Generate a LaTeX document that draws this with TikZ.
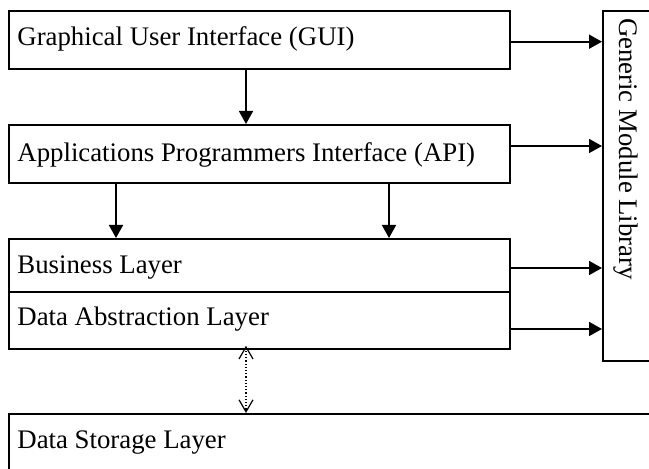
\documentclass[tikz,border=0pt]{standalone}
\usepackage{fontspec}
\setmainfont{Liberation Serif}
\usetikzlibrary{arrows.meta,calc}
\begin{document}
\begin{tikzpicture}[x=0.5pt,y=-0.5pt,
  layer/.style={draw,line width=0.9pt,anchor=north west,inner sep=0pt,
    minimum width=250.5pt},
  lbl/.style={anchor=base west,inner sep=0pt,font=\fontsize{13.4}{15}\selectfont},
  arr/.style={-{Triangle[length=6.5pt,width=7pt]},line width=0.85pt},
  dots/.style={densely dotted,line width=0.6pt,
    {Straight Barb[length=6pt,width=7pt]}-{Straight Barb[length=6pt,width=7pt]}}]
  \clip (0,0) rectangle (649,469);

  % layer boxes
  \node[layer,minimum height=29pt]   (gui) at (8,10)  {};
  \node[layer,minimum height=29pt]   (api) at (8,124) {};
  \node[layer,minimum height=26.5pt] (bus) at (8,238) {};
  \node[layer,minimum height=28.5pt] (dal) at (8,291) {};
  \node[layer,minimum width=350pt,minimum height=50pt] (sto) at (8,413) {};
  \node[layer,minimum width=30pt,minimum height=175pt] (gml) at (602,10) {};

  % labels
  \node[lbl] (guiT) at (17,46)  {Graphical User Interface (GUI)};
  \node[lbl] (apiT) at (17,162) {Applications Programmers Interface (API)};
  \node[lbl] (busT) at (17,274) {Business Layer};
  \node[lbl] (dalT) at (17,326) {Data Abstraction Layer};
  \node[lbl] (stoT) at (17,449) {Data Storage Layer};
  \node[rotate=-90,inner sep=0pt,font=\fontsize{13.4}{15}\selectfont]
    (gmlT) at (626,149) {Generic Module Library};

  % arrows into the module library
  \coordinate (g1) at ($(gui.north east)+(0,31.7)$);
  \coordinate (g2) at ($(api.north east)+(0,22)$);
  \coordinate (g3) at ($(bus.north east)+(0,30)$);
  \coordinate (g4) at ($(dal.north east)+(0,38)$);
  \draw[arr] (g1) -- (g1 -| gml.west);
  \draw[arr] (g2) -- (g2 -| gml.west);
  \draw[arr] (g3) -- (g3 -| gml.west);
  \draw[arr] (g4) -- (g4 -| gml.west);

  % downward calls between layers
  \coordinate (cx) at (246,0);
  \coordinate (lx) at (116,0);
  \coordinate (rx) at (389,0);
  \draw[arr] (gui.south -| cx) -- (api.north -| cx);
  \draw[arr] (api.south -| lx) -- (bus.north -| lx);
  \draw[arr] (api.south -| rx) -- (bus.north -| rx);

  % two-way link to storage
  \draw[dots] ([yshift=2pt]dal.south -| cx) -- (sto.north -| cx);
\end{tikzpicture}
\end{document}
